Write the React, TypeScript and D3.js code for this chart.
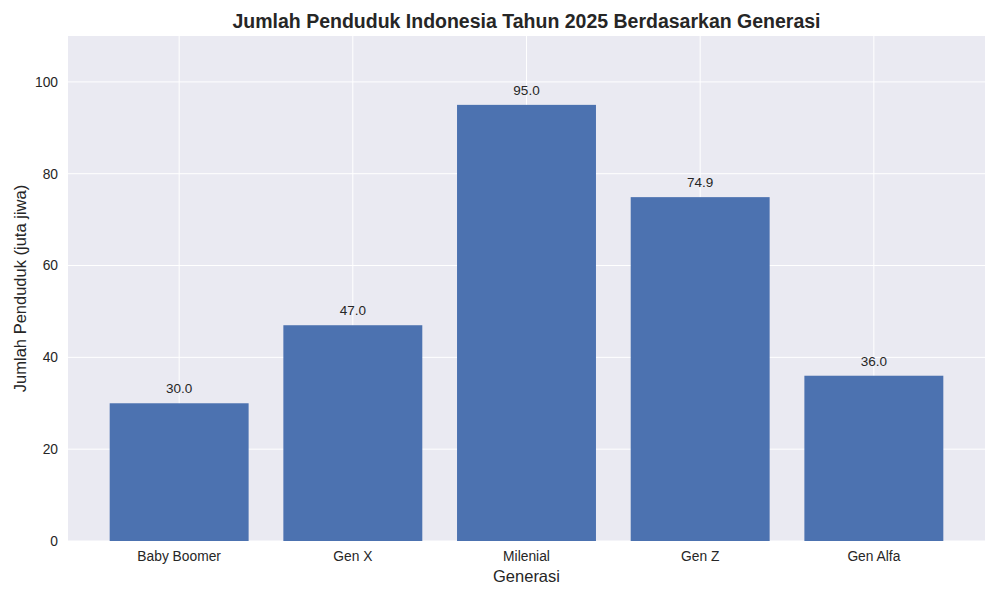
import React from "react";
import * as d3 from "d3";

const categories = ["Baby Boomer", "Gen X", "Milenial", "Gen Z", "Gen Alfa"];
const values = [30.0, 47.0, 95.0, 74.9, 36.0];
const yTicks = [0, 20, 40, 60, 80, 100];

const W = 1000, H = 600;
const left = 68, right = 985, top = 36, bottom = 541;
const font = "'Liberation Sans', Arial, sans-serif";
const textColor = "#262626";

export default function App() {
  const x = d3.scaleLinear().domain([-0.64, categories.length - 1 + 0.64]).range([left, right]);
  const y = d3.scaleLinear().domain([0, 110]).range([bottom, top]);
  const bw = x(0.4) - x(-0.4);
  return (
    <svg width={W} height={H} style={{ position: "absolute", left: 0, top: 0, background: "#fff" }}>
      <rect x={left} y={top} width={right - left} height={bottom - top} fill="#EAEAF2" />
      {yTicks.map((t) => (
        <line key={"gy" + t} x1={left} x2={right} y1={y(t)} y2={y(t)} stroke="#fff" strokeWidth={1} />
      ))}
      {categories.map((c, i) => (
        <line key={"gx" + i} x1={x(i)} x2={x(i)} y1={top} y2={bottom} stroke="#fff" strokeWidth={1} />
      ))}
      {values.map((v, i) => (
        <rect key={"b" + i} x={x(i) - bw / 2} y={y(v)} width={bw} height={y(0) - y(v)} fill="#4C72B0" />
      ))}
      {values.map((v, i) => (
        <text key={"l" + i} x={x(i)} y={y(v) - 10} textAnchor="middle" fontFamily={font} fontSize={13.5} fill={textColor}>
          {v.toFixed(1)}
        </text>
      ))}
      {yTicks.map((t) => (
        <text key={"ty" + t} x={left - 10} y={y(t)} dy="0.35em" textAnchor="end" fontFamily={font} fontSize={13.8} fill={textColor}>
          {t}
        </text>
      ))}
      {categories.map((c, i) => (
        <text key={"tx" + i} x={x(i)} y={bottom + 20} textAnchor="middle" fontFamily={font} fontSize={13.8} fill={textColor}>
          {c}
        </text>
      ))}
      <text x={(left + right) / 2} y={582} textAnchor="middle" fontFamily={font} fontSize={16.5} fill={textColor}>
        Generasi
      </text>
      <text transform={`translate(26,${(top + bottom) / 2}) rotate(-90)`} textAnchor="middle" fontFamily={font} fontSize={16.5} fill={textColor}>
        Jumlah Penduduk (juta jiwa)
      </text>
      <text x={(left + right) / 2} y={28} textAnchor="middle" fontFamily={font} fontSize={19.5} fontWeight="bold" fill={textColor}>
        Jumlah Penduduk Indonesia Tahun 2025 Berdasarkan Generasi
      </text>
    </svg>
  );
}
